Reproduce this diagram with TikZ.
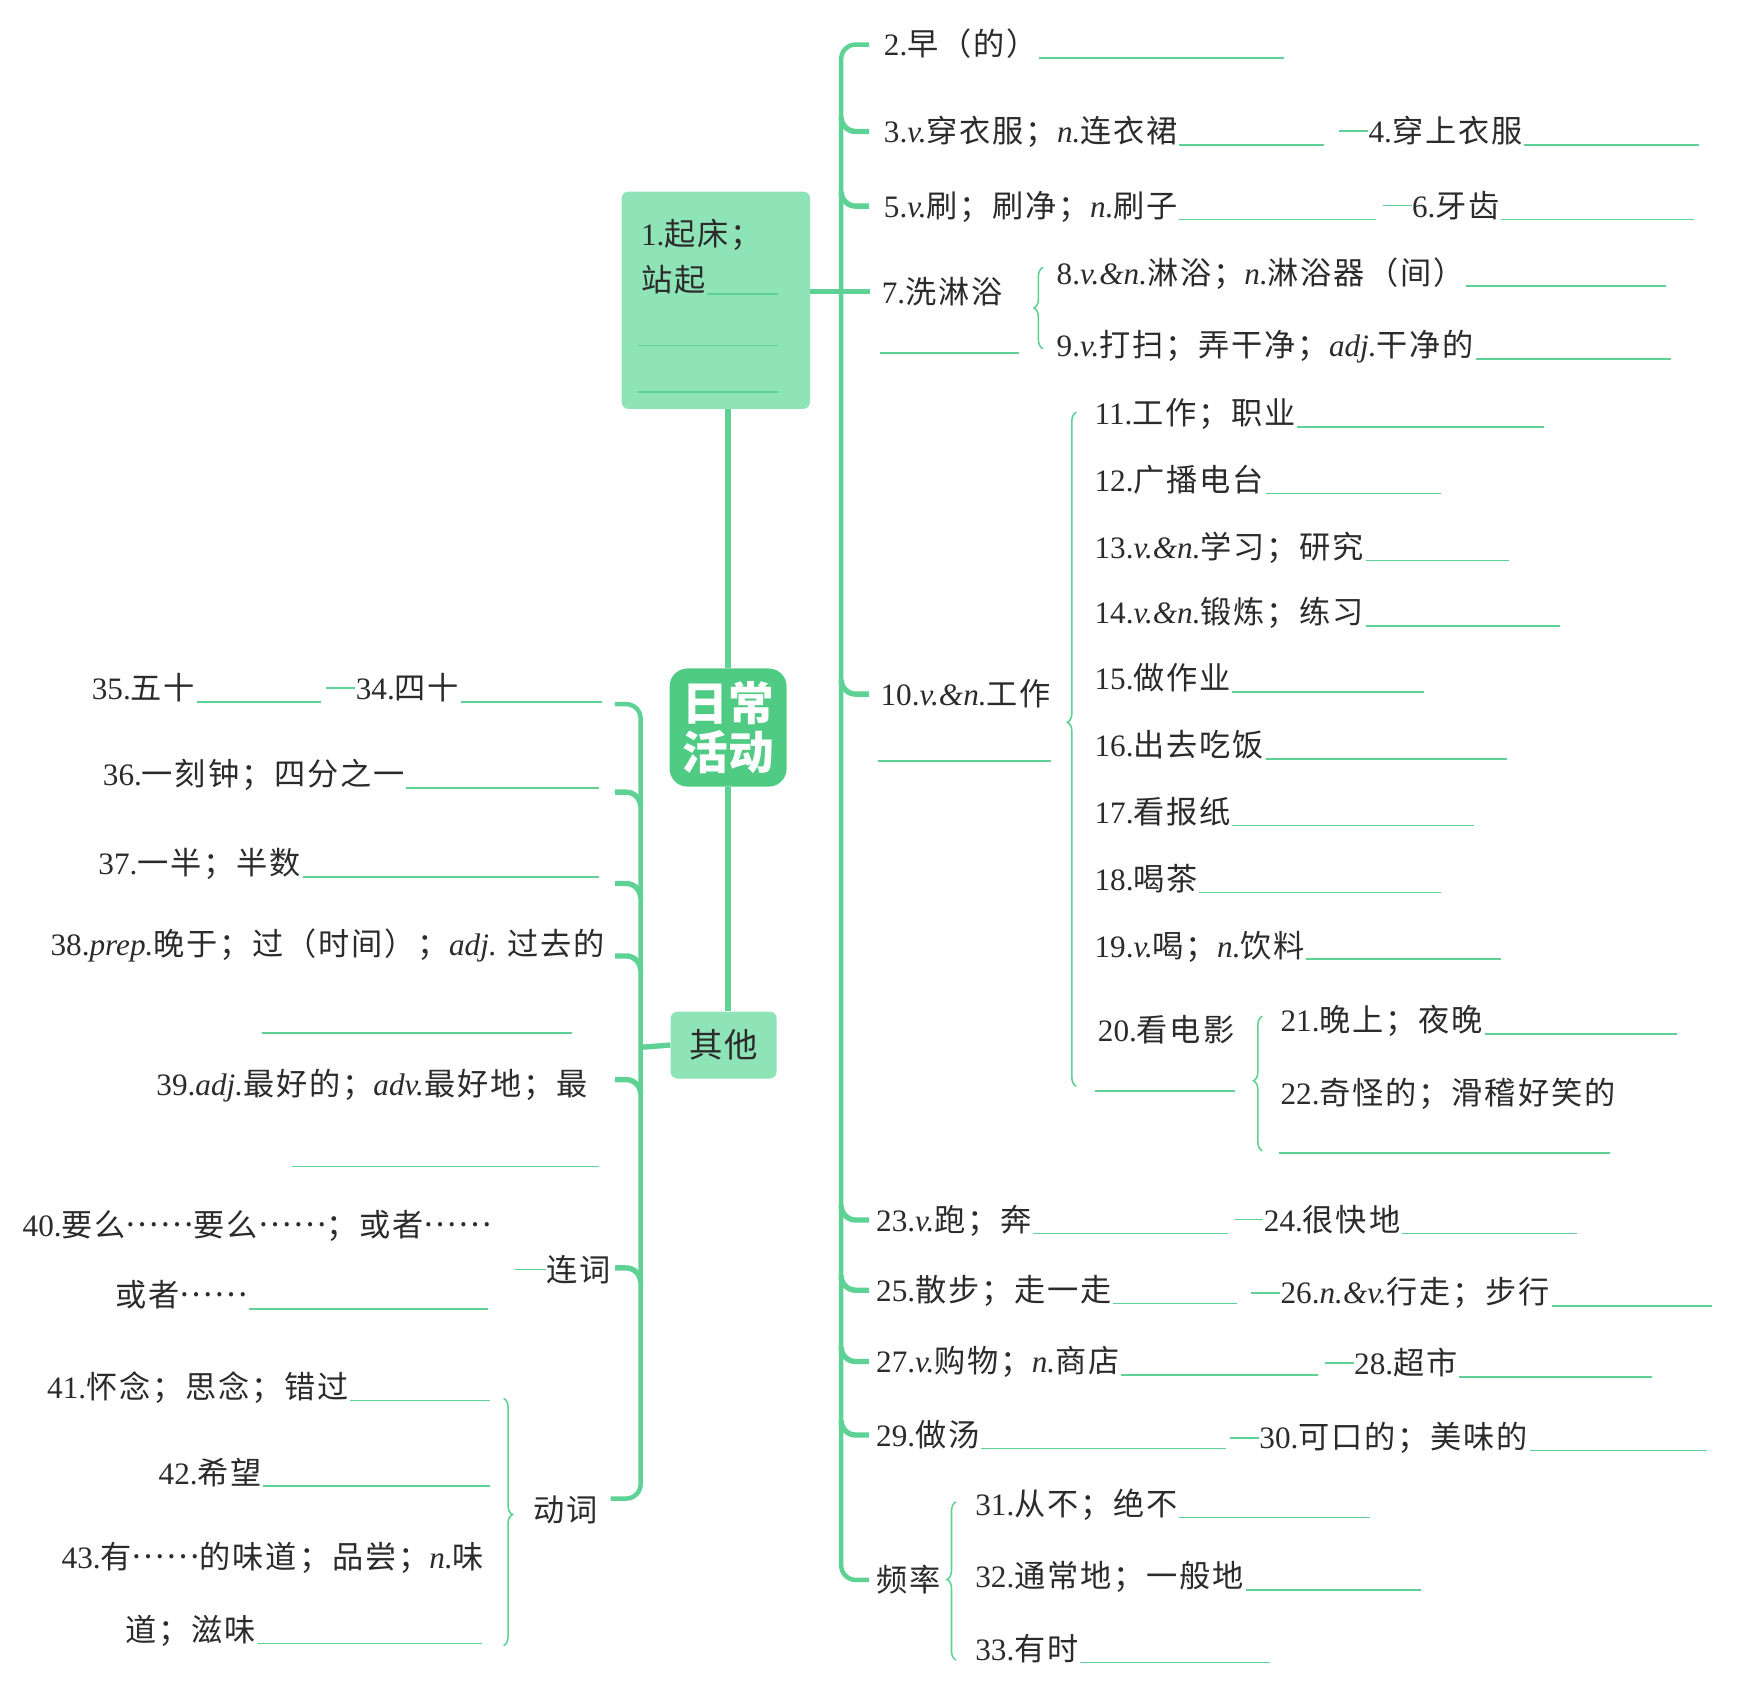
\documentclass[tikz,border=0pt]{standalone}
\usepackage{fontspec}
\setmainfont{Liberation Serif}
\newfontfamily\cjk[LetterSpace=6]{Noto Sans CJK SC}
\newfontfamily\cjkc{Noto Sans CJK SC}
\usetikzlibrary{decorations.pathreplacing,calc}
\definecolor{lg}{HTML}{5ED195}
\definecolor{boxf}{HTML}{8EE3B7}
\definecolor{cenf}{HTML}{4FCB84}
\definecolor{txt}{HTML}{2B2B2B}
\newcommand\z[1]{{\cjk #1}}
\newcommand\pp[1]{\textit{#1}}
\newcommand\el{{\cjk\raisebox{0.32em}{……}}}
\tikzset{
  t/.style={anchor=base west, inner sep=0pt, text=txt, font=\fontsize{14}{16}\selectfont},
  bl/.style={draw=lg, line width=0.75pt},
  trunk/.style={draw=lg, line width=2pt},
  stubl/.style={draw=lg, line width=2.4pt},
  brc/.style={draw=lg, line width=0.7pt, decorate, decoration={brace, amplitude=4pt, aspect=#1}},
  brc/.default=0.5
}
\newcommand\T[4]{\node[t] (#1) at (#2,#3+10) {#4};}
\newcommand\U[2]{\path (#1.base east) ++(1,2) coordinate (u); \draw[bl] (u) -- (u -| #2,0);}
\newcommand\D[2]{\draw[bl] ([xshift=-#2]#1.west) -- (#1.west);}
\newcommand\RS[1]{\draw[stubl] (755,#1-13) to[out=-90,in=180] (768,#1) -- (780,#1);}
\newcommand\LS[1]{\draw[stubl] (552,#1) -- (562,#1) to[out=0,in=90] (575,#1+13);}
\begin{document}
\begin{tikzpicture}[x=0.5pt,y=-0.5pt]
\useasboundingbox (0,0) rectangle (1568,1513);
\fill[white] (0,0) rectangle (1568,1513);

% ---------- central structure
\node[fill=boxf, rounded corners=3pt, minimum width=84.5pt, minimum height=97.5pt, inner sep=0pt] (b1) at (642.5,269.5) {};
\node[fill=cenf, rounded corners=8pt, minimum width=52.5pt, minimum height=53pt, inner sep=0pt, text=white, align=center, font=\fontsize{20.5}{22}\selectfont\cjkc\bfseries] (c) at (653.5,653) {日常\\活动};
\node[fill=boxf, rounded corners=3pt, minimum width=47.5pt, minimum height=30pt, inner sep=0pt, text=txt, font=\fontsize{15}{16}\selectfont\cjk] (qt) at (649.5,938) {其他};

\draw[stubl] (c.north |- b1.south) -- (c.north);
\draw[stubl] (c.south) -- (c.south |- qt.north);

% box 1 content
\T{t1a}{575}{210}{1.\z{起床；}}
\T{t1b}{575}{252}{\z{站起}}
\U{t1b}{698}
\draw[bl] (573,310) -- (698,310);
\draw[bl] (573,352) -- (698,352);

% ---------- right trunk
\draw[trunk] (780,40) -- (768,40) to[out=180,in=90] (755,53) -- (755,1405) to[out=-90,in=180] (768,1418) -- (780,1418);
\RS{118}\RS{185}\RS{623}\RS{1095}\RS{1158}\RS{1222}\RS{1288}

% right items
\T{t2}{793}{40}{2.\z{早（的）}} \U{t2}{1152}
\T{t3}{793}{118}{3.\pp{v.}\z{穿衣服；}\pp{n.}\z{连衣裙}} \U{t3}{1188}
\T{t4}{1228}{118}{4.\z{穿上衣服}} \U{t4}{1525} \D{t4}{13pt}
\T{t5}{793}{185}{5.\pp{v.}\z{刷；刷净；}\pp{n.}\z{刷子}} \U{t5}{1235}
\T{t6}{1267}{185}{6.\z{牙齿}} \U{t6}{1520} \D{t6}{13pt}
\T{t7}{791}{262}{7.\z{洗淋浴}}
\draw[stubl] (b1.east |- t7.west) -- ([xshift=-5pt]t7.west);
\draw[bl] (790,317) -- (915,317);
\draw[brc] (936,313) -- (936,240);
\T{t8}{948}{245}{8.\pp{v.\&n.}\z{淋浴；}\pp{n.}\z{淋浴器（间）}} \U{t8}{1495}
\T{t9}{948}{310}{9.\pp{v.}\z{打扫；弄干净；}\pp{adj.}\z{干净的}} \U{t9}{1500}

\T{t10}{790}{623}{10.\pp{v.\&n.}\z{工作}}
\draw[bl] (788,683) -- (943,683);
\draw[brc=0.54] (966,975) -- (966,370);
\T{t11}{982}{371}{11.\z{工作；职业}} \U{t11}{1386}
\T{t12}{982}{431}{12.\z{广播电台}} \U{t12}{1293}
\T{t13}{982}{491}{13.\pp{v.\&n.}\z{学习；研究}} \U{t13}{1354}
\T{t14}{982}{550}{14.\pp{v.\&n.}\z{锻炼；练习}} \U{t14}{1400}
\T{t15}{982}{609}{15.\z{做作业}} \U{t15}{1278}
\T{t16}{982}{669}{16.\z{出去吃饭}} \U{t16}{1353}
\T{t17}{982}{729}{17.\z{看报纸}} \U{t17}{1323}
\T{t18}{982}{789}{18.\z{喝茶}} \U{t18}{1293}
\T{t19}{982}{849}{19.\pp{v.}\z{喝；}\pp{n.}\z{饮料}} \U{t19}{1347}
\T{t20}{985}{925}{20.\z{看电影}}
\draw[bl] (983,979) -- (1108,979);
\draw[brc=0.52] (1133,1033) -- (1133,912);
\T{t21}{1149}{916}{21.\z{晚上；夜晚}} \U{t21}{1505}
\T{t22}{1149}{981}{22.\z{奇怪的；滑稽好笑的}}
\draw[bl] (1148,1035) -- (1445,1035);

\T{t23}{786}{1095}{23.\pp{v.}\z{跑；奔}} \U{t23}{1102}
\T{t24}{1134}{1095}{24.\z{很快地}} \U{t24}{1415} \D{t24}{13pt}
\T{t25}{786}{1158}{25.\z{散步；走一走}} \U{t25}{1110}
\T{t26}{1149}{1160}{26.\pp{n.\&v.}\z{行走；步行}} \U{t26}{1537} \D{t26}{13pt}
\T{t27}{786}{1222}{27.\pp{v.}\z{购物；}\pp{n.}\z{商店}} \U{t27}{1183}
\T{t28}{1215}{1224}{28.\z{超市}} \U{t28}{1483} \D{t28}{13pt}
\T{t29}{786}{1288}{29.\z{做汤}} \U{t29}{1100}
\T{t30}{1130}{1290}{30.\z{可口的；美味的}} \U{t30}{1532} \D{t30}{13pt}

\T{tpl}{786}{1418}{\z{频率}}
\draw[brc=0.51] (858,1490) -- (858,1348);
\T{t31}{875}{1350}{31.\z{从不；绝不}} \U{t31}{1230}
\T{t32}{875}{1415}{32.\z{通常地；一般地}} \U{t32}{1275}
\T{t33}{875}{1480}{33.\z{有时}} \U{t33}{1140}

% ---------- left trunk
\draw[trunk] (552,632) -- (562,632) to[out=0,in=90] (575,645) -- (575,1332) to[out=-90,in=0] (562,1345) -- (548,1345);
\LS{711}\LS{793}\LS{858}\LS{969}\LS{1138}
\draw[stubl] (575,940) -- (qt.west);

\T{t35}{82}{618}{35.\z{五十}} \U{t35}{288}
\T{t34}{319}{618}{34.\z{四十}} \U{t34}{540} \D{t34}{13pt}
\T{t36}{92}{695}{36.\z{一刻钟；四分之一}} \U{t36}{538}
\T{t37}{88}{775}{37.\z{一半；半数}} \U{t37}{538}
\T{t38}{45}{848}{38.\pp{prep.}\z{晚于；过（时间）；}\pp{adj.} \z{过去的}}
\draw[bl] (235,927) -- (513,927);
\T{t39}{140}{973}{39.\pp{adj.}\z{最好的；}\pp{adv.}\z{最好地；最}}
\draw[bl] (262,1047) -- (538,1047);
\T{t40a}{20}{1100}{40.\z{要么}\el\z{要么}\el\z{；或者}\el}
\T{t40b}{103}{1163}{\z{或者}\el} \U{t40b}{438}
\T{lc}{490}{1140}{\z{连词}} \D{lc}{14pt}
\T{t41}{42}{1245}{41.\z{怀念；思念；错过}} \U{t41}{440}
\T{t42}{142}{1322}{42.\z{希望}} \U{t42}{440}
\T{t43a}{55}{1398}{43.\z{有}\el\z{的味道；品尝；}\pp{n.}\z{味}}
\T{t43b}{112}{1463}{\z{道；滋味}} \U{t43b}{433}
\draw[brc=0.47] (452,1255) -- (452,1477);
\T{dc}{478}{1356}{\z{动词}}
\end{tikzpicture}
\end{document}
